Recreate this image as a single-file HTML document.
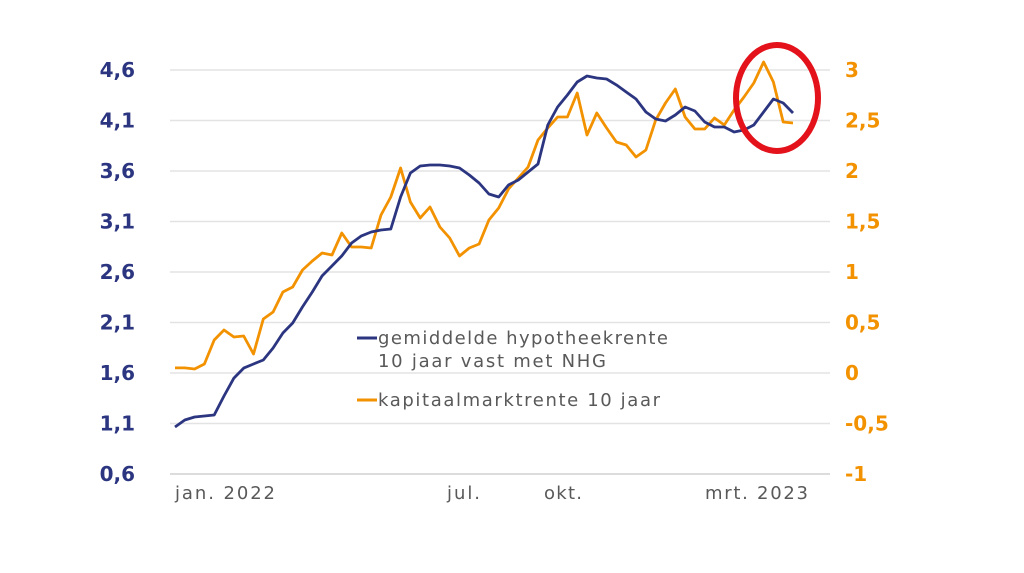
<!DOCTYPE html>
<html><head><meta charset="utf-8"><style>
body{margin:0;background:#fff;width:1024px;height:573px;overflow:hidden}
svg{display:block;font-family:"DejaVu Sans","Liberation Sans",sans-serif}
</style></head><body>
<svg id="chart" width="1024" height="573" viewBox="0 0 1024 573">
<g id="grid"></g>
<g id="lt"></g>
<g id="rt"></g>
<g font-size="18" fill="#595959">
<text x="175" y="499" textLength="100">jan. 2022</text>
<text x="447" y="499" textLength="33">jul.</text>
<text x="544" y="499" textLength="38">okt.</text>
<text x="705" y="499" textLength="103">mrt. 2023</text>
</g>
<path id="orange" fill="none" stroke="#f39200" stroke-width="2.8" stroke-linejoin="round"/>
<path id="blue" fill="none" stroke="#2b3580" stroke-width="2.8" stroke-linejoin="round"/>
<g font-size="18" fill="#595959">
<line x1="357" y1="338" x2="377" y2="338" stroke="#2b3580" stroke-width="3"/>
<text x="378" y="344" textLength="290">gemiddelde hypotheekrente</text>
<text x="378" y="367" textLength="228">10 jaar vast met NHG</text>
<line x1="357" y1="400" x2="377" y2="400" stroke="#f39200" stroke-width="3"/>
<text x="378" y="406" textLength="282">kapitaalmarktrente 10 jaar</text>
</g>
<ellipse cx="777" cy="98" rx="41" ry="53" fill="none" stroke="#e3121b" stroke-width="6"/>
</svg>
<script>
const blueVals=[1.065,1.135,1.164,1.174,1.184,1.372,1.55,1.649,1.689,1.729,1.848,1.996,2.095,2.254,2.402,2.561,2.66,2.759,2.887,2.957,2.996,3.016,3.026,3.343,3.58,3.65,3.659,3.659,3.65,3.63,3.56,3.481,3.372,3.343,3.461,3.511,3.59,3.669,4.055,4.234,4.352,4.481,4.541,4.521,4.511,4.452,4.382,4.313,4.184,4.115,4.095,4.154,4.234,4.194,4.085,4.036,4.036,3.986,4.006,4.055,4.184,4.313,4.273,4.174];
const orangeVals=[0.05,0.05,0.04,0.089,0.327,0.426,0.356,0.366,0.188,0.535,0.604,0.802,0.851,1.02,1.109,1.188,1.168,1.386,1.248,1.248,1.238,1.564,1.743,2.03,1.693,1.535,1.644,1.446,1.337,1.158,1.238,1.277,1.515,1.634,1.822,1.931,2.04,2.307,2.426,2.535,2.535,2.772,2.356,2.574,2.426,2.287,2.257,2.139,2.208,2.505,2.673,2.812,2.535,2.416,2.416,2.525,2.455,2.604,2.733,2.871,3.079,2.881,2.485,2.475];
const leftTicks=["0,6","1,1","1,6","2,1","2,6","3,1","3,6","4,1","4,6"];
const rightTicks=["-1","-0,5","0","0,5","1","1,5","2","2,5","3"];
const NS="http://www.w3.org/2000/svg";
const x=i=>175+i*(618/63);
const yL=v=>474-(v-0.6)*101;
const yR=v=>474-(v+1)*101;
const grid=document.getElementById('grid'),lt=document.getElementById('lt'),rt=document.getElementById('rt');
for(let k=0;k<9;k++){
 const y=474-k*50.5;
 const l=document.createElementNS(NS,'line');
 
 
 l.setAttribute('x1',170);l.setAttribute('x2',830);l.setAttribute('y1',y);l.setAttribute('y2',y);
 l.setAttribute('stroke',k==0?'#d0d0d0':'#e3e3e3');l.setAttribute('stroke-width','1.5');
 grid.appendChild(l);
 const t=document.createElementNS(NS,'text');
 
 
 t.setAttribute('x',135);t.setAttribute('y',y+7);t.setAttribute('text-anchor','end');
 t.setAttribute('font-size','20');t.setAttribute('font-weight','bold');t.setAttribute('fill','#2b3580');
 t.textContent=leftTicks[k];lt.appendChild(t);
 const r=document.createElementNS(NS,'text');
 
 
 r.setAttribute('x',845);r.setAttribute('y',y+7);
 r.setAttribute('font-size','20');r.setAttribute('font-weight','bold');r.setAttribute('fill','#f39200');
 r.textContent=rightTicks[k];rt.appendChild(r);
}
document.getElementById('blue').setAttribute('d',blueVals.map((v,i)=>(i?'L':'M')+x(i).toFixed(1)+' '+yL(v).toFixed(1)).join(' '));
document.getElementById('orange').setAttribute('d',orangeVals.map((v,i)=>(i?'L':'M')+x(i).toFixed(1)+' '+yR(v).toFixed(1)).join(' '));
</script>
</body></html>
